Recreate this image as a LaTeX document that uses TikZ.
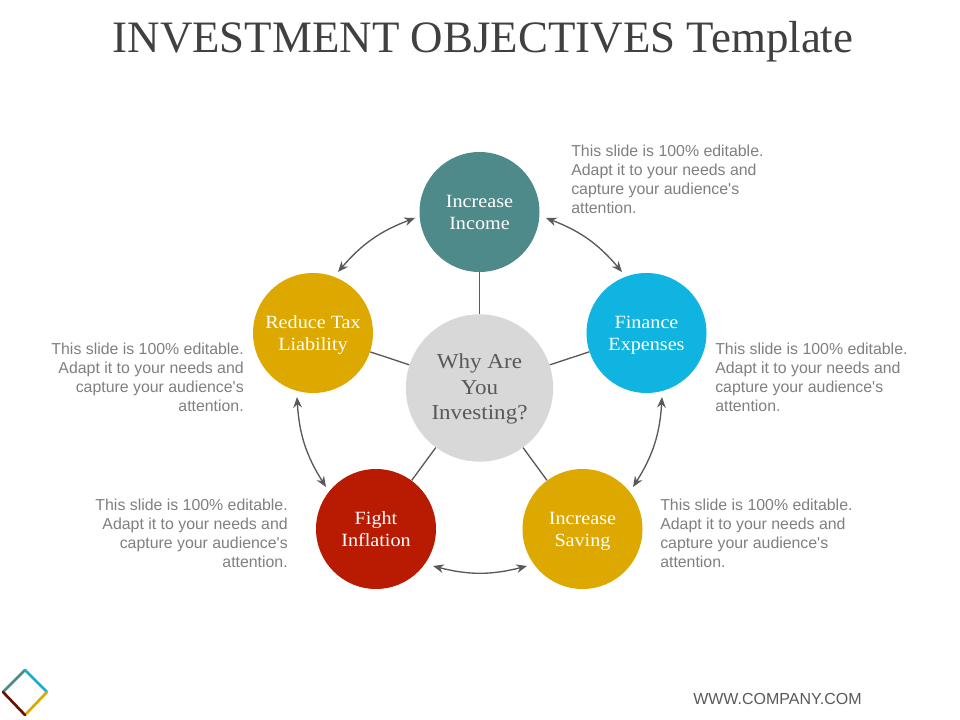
\documentclass[tikz,border=0pt]{standalone}
\usepackage{fontspec}
\setmainfont{Liberation Sans}
\newfontfamily\geo[FakeStretch=1.08]{Liberation Serif}
\newfontfamily\geotitle{Liberation Serif}
\definecolor{tealc}{HTML}{4F8A8B}
\definecolor{bluec}{HTML}{0FB5E0}
\definecolor{goldc}{HTML}{DDA800}
\definecolor{redc}{HTML}{B81A02}
\definecolor{grayc}{HTML}{D8D8D8}
\definecolor{linec}{HTML}{595959}
\definecolor{bodyc}{HTML}{7F7F7F}
\definecolor{titlec}{HTML}{404040}
\usetikzlibrary{arrows.meta}
\newcommand{\notetext}{This slide is 100\% editable.\\Adapt it to your needs and\\capture your audience\textquotesingle s\\attention.}
\newcommand{\topstrut}[1]{\rule{0pt}{#1}}
\tikzset{
  x=0.75pt,y=-0.75pt,
  disc/.style={circle,minimum size=90pt,inner sep=0pt,text=white,align=center,
    font=\geo\fontsize{14}{16.5}\selectfont},
  hub/.style={circle,fill=grayc,minimum size=110.5pt,inner sep=0pt,text=linec,align=center,
    font=\geo\fontsize{16}{19.2}\selectfont},
  spoke/.style={draw=linec,line width=1pt},
  cycle arrow/.style={draw=linec,line width=1pt,{Stealth[length=8pt,width=6.5pt]}-{Stealth[length=8pt,width=6.5pt]}},
  noteleft/.style={anchor=north west,inner sep=0pt,align=left,text=bodyc,font=\fontsize{11.9}{14.25}\selectfont},
  noteright/.style={anchor=north east,inner sep=0pt,align=right,text=bodyc,font=\fontsize{11.9}{14.25}\selectfont},
  logoedge/.style={line width=2pt,line cap=round},
}
\begin{document}
\begin{tikzpicture}
\useasboundingbox (0,0) rectangle (960,720);
\node[anchor=center,inner sep=0pt,text=titlec,font=\geotitle\fontsize{33.7}{38}\selectfont] (title) at (483,42) {INVESTMENT OBJECTIVES Template};

\node[hub] (hubc) at (479.5,388) {\topstrut{14.94pt}Why Are\\\strut You\\\strut Investing?};
\node[disc,fill=tealc] (income) at (479.5,212) {\topstrut{14.55pt}Increase\\\strut Income};
\node[disc,fill=bluec] (finance) at (646.5,333) {\topstrut{14.55pt}Finance\\\strut Expenses};
\node[disc,fill=goldc] (saving) at (582.5,529) {\topstrut{14.55pt}Increase\\\strut Saving};
\node[disc,fill=redc] (fight) at (376,529) {\topstrut{14.55pt}Fight\\\strut Inflation};
\node[disc,fill=goldc] (tax) at (313,333) {\topstrut{14.55pt}Reduce Tax\\\strut Liability};

\draw[spoke] (hubc) -- (income);
\draw[spoke] (hubc) -- (finance);
\draw[spoke] (hubc) -- (saving);
\draw[spoke] (hubc) -- (fight);
\draw[spoke] (hubc) -- (tax);

\coordinate (a1) at (415,218); \coordinate (a2) at (338,272);
\coordinate (b1) at (546,218); \coordinate (b2) at (622,272);
\coordinate (c1) at (662,397); \coordinate (c2) at (633,487);
\coordinate (d1) at (527,566); \coordinate (d2) at (433,566);
\coordinate (e1) at (326,487); \coordinate (e2) at (297,397);
\draw[cycle arrow] (a1) to[bend right=14.5] (a2);
\draw[cycle arrow] (b1) to[bend left=14.5] (b2);
\draw[cycle arrow] (c1) to[bend left=14.5] (c2);
\draw[cycle arrow] (d1) to[bend left=14.5] (d2);
\draw[cycle arrow] (e1) to[bend left=14.5] (e2);

\node[noteleft] (n1) at (571,145) {\notetext};
\node[noteleft] (n2) at (715,343) {\notetext};
\node[noteleft] (n3) at (660,499) {\notetext};
\node[noteright] (n4) at (288,499) {\notetext};
\node[noteright] (n5) at (244,343) {\notetext};

\node[anchor=west,inner sep=0pt,text=linec,font=\fontsize{12}{14}\selectfont] (web) at (693,699) {WWW.COMPANY.COM};

\coordinate (lt) at (25,670); \coordinate (lr) at (47,692);
\coordinate (lb) at (25,715); \coordinate (ll) at (3,692);
\draw[logoedge,draw=tealc] (ll) -- (lt);
\draw[logoedge,draw=bluec!80!tealc] (lt) -- (lr);
\draw[logoedge,draw=goldc] (lr) -- (lb);
\draw[logoedge,draw=redc!60!black] (lb) -- (ll);
\end{tikzpicture}
\end{document}
